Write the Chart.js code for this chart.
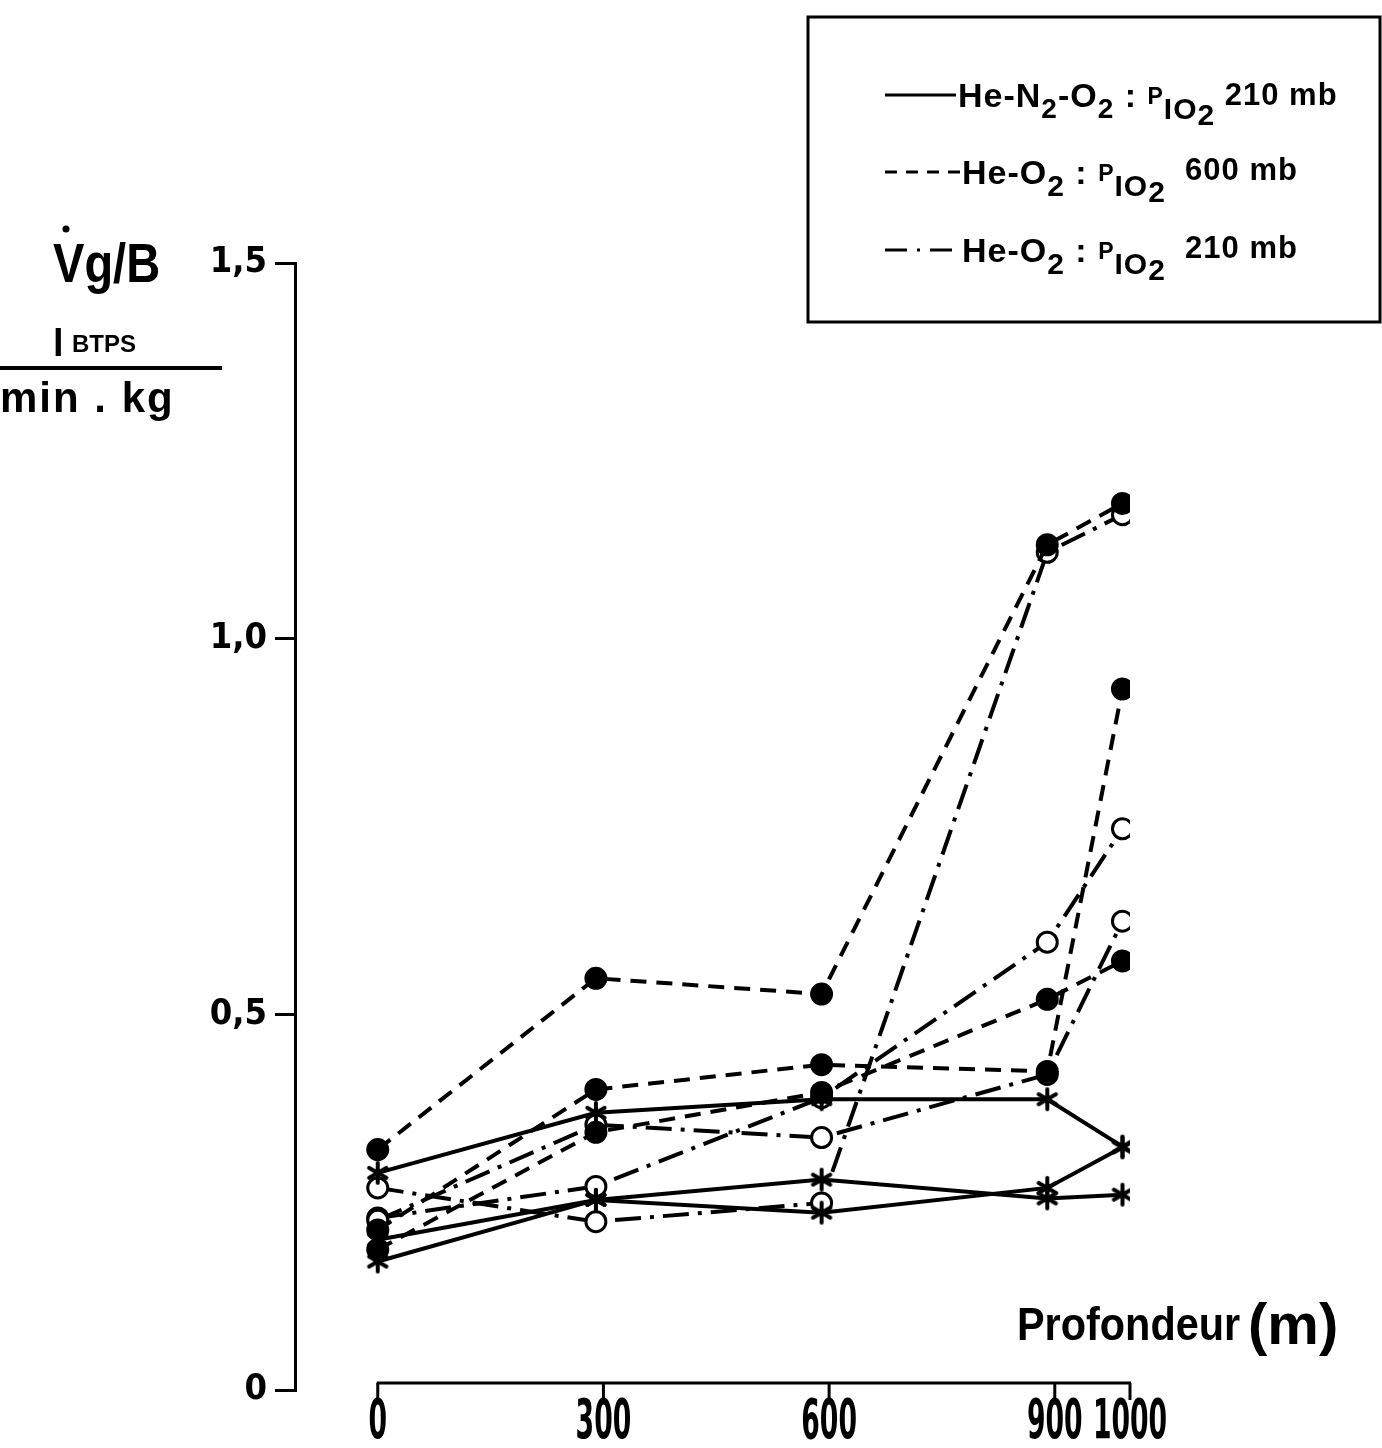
<!DOCTYPE html>
<html>
<head>
<meta charset="utf-8">
<script src="https://cdn.jsdelivr.net/npm/chart.js@4.4.0/dist/chart.umd.min.js"></script>
<style>
  html, body { margin: 0; padding: 0; background: #fff; }
  #wrap { width: 1382px; height: 1448px; position: relative; }
</style>
</head>
<body>
<div id="wrap"><canvas id="graph"></canvas></div>
<script>
// profondeurs des mesures (m) et graduations
const depths = [0, 290, 590, 890, 990];
const xTicks = [0, 300, 600, 900, 1000];
const yTicks = [0, 0.5, 1.0, 1.5];

// He-N2-O2 : PIO2 210 mb (trait plein, asterisques)
const n2Sujet1 = [0.289, 0.369, 0.387, 0.387, 0.324];
const n2Sujet2 = [0.200, 0.253, 0.280, 0.255, 0.260];
const n2Sujet3 = [0.171, 0.253, 0.236, 0.269, 0.323];

// He-O2 : PIO2 600 mb (tirets, points pleins)
const o2hSujet1 = [0.320, 0.548, 0.527, 1.125, 1.180];
const o2hSujet2 = [0.213, 0.400, 0.433, 0.424, 0.933];
const o2hSujet3 = [0.187, 0.343, 0.396, 0.520, 0.571];

// He-O2 : PIO2 210 mb (tiret-point, cercles vides)
const o2bSujet1 = [0.269, 0.224, 0.249, 1.115, 1.165];
const o2bSujet2 = [0.226, 0.353, 0.336, 0.420, 0.624];
const o2bSujet3 = [0.229, 0.271, 0.389, 0.596, 0.747];

const TIRETS = [16, 10];
const TIRET_POINT = [26, 9, 4, 9];
const NARROW = "'Liberation Sans Narrow', 'DejaVu Sans Condensed', sans-serif";
const SANS = "'Liberation Sans', Arial, sans-serif";

// asterisque a 6 branches pour les points He-N2-O2
const asterisque = document.createElement('canvas');
asterisque.width = 26;
asterisque.height = 26;
(function () {
  const c = asterisque.getContext('2d');
  c.strokeStyle = '#000';
  c.lineWidth = 4;
  c.lineCap = 'round';
  for (let k = 0; k < 3; k++) {
    const a = Math.PI / 2 + k * Math.PI / 3;
    c.beginPath();
    c.moveTo(13 - 10 * Math.cos(a), 13 - 10 * Math.sin(a));
    c.lineTo(13 + 10 * Math.cos(a), 13 + 10 * Math.sin(a));
    c.stroke();
  }
})();

function serie(values, dash, point, fond) {
  return {
    data: values.map((v, i) => ({ x: depths[i], y: v })),
    borderColor: '#000',
    borderWidth: 4,
    borderDash: dash,
    pointStyle: point,
    pointRadius: 10,
    pointBorderWidth: 3,
    pointBorderColor: '#000',
    pointBackgroundColor: fond,
    tension: 0,
    fill: false
  };
}

// texte avec indices : [texte, taille, decalage vertical]
function texteRiche(ctx, x, y, parts, poids) {
  let cx = x;
  parts.forEach(([t, taille, dy]) => {
    ctx.font = poids + ' ' + taille + 'px ' + SANS;
    ctx.fillText(t, cx, y + dy);
    cx += ctx.measureText(t).width;
  });
}

const habillage = {
  id: 'habillage',
  afterDraw(chart) {
    const { ctx, scales: { x, y } } = chart;
    ctx.save();
    ctx.fillStyle = '#000';
    ctx.strokeStyle = '#000';
    ctx.textBaseline = 'alphabetic';

    // axe des profondeurs, decale sous le graphe
    const base = y.getPixelForValue(0) - 7;
    ctx.lineWidth = 3;
    ctx.beginPath();
    ctx.moveTo(x.getPixelForValue(xTicks[0]) - 1, base);
    ctx.lineTo(x.getPixelForValue(xTicks[xTicks.length - 1]) + 1, base);
    ctx.stroke();
    xTicks.forEach(v => {
      const px = x.getPixelForValue(v);
      ctx.beginPath();
      ctx.moveTo(px, base);
      ctx.lineTo(px, base + 17);
      ctx.stroke();
      ctx.save();
      ctx.translate(px, base + 55);
      ctx.scale(0.78, 1.45);
      ctx.textAlign = 'center';
      ctx.font = 'bold 38px ' + NARROW;
      ctx.fillText(String(v), 0, 0);
      ctx.restore();
    });

    // titre de l'axe des x
    ctx.textAlign = 'left';
    ctx.save();
    ctx.translate(1017, 1340);
    ctx.scale(0.9, 1);
    ctx.font = 'bold 46px ' + SANS;
    ctx.fillText('Profondeur', 0, 0);
    ctx.restore();
    ctx.save();
    ctx.translate(1248, 1344);
    ctx.scale(1, 1);
    ctx.font = 'bold 58px ' + SANS;
    ctx.fillText('(m)', 0, 0);
    ctx.restore();

    // titre de l'axe des y
    ctx.save();
    ctx.translate(53, 282);
    ctx.scale(0.84, 1);
    ctx.font = 'bold 56px ' + SANS;
    ctx.fillText('Vg/B', 0, 0);
    ctx.restore();
    ctx.beginPath();
    ctx.arc(66, 229, 3.5, 0, Math.PI * 2);
    ctx.fill();
    ctx.font = 'bold 38px ' + SANS;
    ctx.fillText('l', 53, 356);
    ctx.font = 'bold 24px ' + SANS;
    ctx.fillText('BTPS', 72, 352);
    ctx.lineWidth = 4;
    ctx.beginPath();
    ctx.moveTo(0, 368);
    ctx.lineTo(222, 368);
    ctx.stroke();
    ctx.font = 'bold 42px ' + SANS;
    ctx.letterSpacing = '2px';
    ctx.fillText('min . kg', 0, 412);
    ctx.letterSpacing = '0px';

    // legende
    ctx.lineWidth = 3;
    ctx.strokeRect(808, 17, 572, 305);
    const entrees = [
      { dash: [], y: 95, texte: 958, parts: [['He-N', 34, 0], ['2', 28, 11], ['-O', 34, 0], ['2', 28, 11], [' : ', 34, 0], ['P', 23, -3], ['IO', 30, 12], ['2', 30, 18], [' 210 mb', 31, -2]] },
      { dash: [12, 9], y: 172, texte: 962, parts: [['He-O', 34, 0], ['2', 30, 12], [' : ', 34, 0], ['P', 23, -3], ['IO', 30, 12], ['2', 30, 18], ['  600 mb', 31, -4]] },
      { dash: [22, 10, 3, 10], y: 250, texte: 962, parts: [['He-O', 34, 0], ['2', 30, 12], [' : ', 34, 0], ['P', 23, -3], ['IO', 30, 12], ['2', 30, 18], ['  210 mb', 31, -4]] }
    ];
    entrees.forEach(e => {
      ctx.setLineDash(e.dash);
      ctx.lineWidth = 3;
      ctx.beginPath();
      ctx.moveTo(885, e.y);
      ctx.lineTo(e.texte - 2, e.y);
      ctx.stroke();
      ctx.setLineDash([]);
      ctx.letterSpacing = '1px';
      texteRiche(ctx, e.texte, e.y + 12, e.parts, 'bold');
      ctx.letterSpacing = '0px';
    });
    ctx.restore();
  }
};

new Chart(document.getElementById('graph'), {
  type: 'line',
  data: {
    datasets: [
      serie(n2Sujet1, [], asterisque, '#000'),
      serie(n2Sujet2, [], asterisque, '#000'),
      serie(n2Sujet3, [], asterisque, '#000'),
      serie(o2hSujet1, TIRETS, 'circle', '#000'),
      serie(o2hSujet2, TIRETS, 'circle', '#000'),
      serie(o2hSujet3, TIRETS, 'circle', '#000'),
      serie(o2bSujet1, TIRET_POINT, 'circle', '#fff'),
      serie(o2bSujet2, TIRET_POINT, 'circle', '#fff'),
      serie(o2bSujet3, TIRET_POINT, 'circle', '#fff')
    ]
  },
  options: {
    responsive: true,
    maintainAspectRatio: false,
    animation: false,
    layout: { autoPadding: false, padding: { left: 0, top: 263, right: 252, bottom: 58 } },
    plugins: { legend: { display: false }, tooltip: { enabled: false } },
    scales: {
      x: { type: 'linear', min: -110, max: 1000, display: false },
      y: {
        type: 'linear',
        min: 0,
        max: 1.5,
        afterBuildTicks(scale) { scale.ticks = yTicks.map(v => ({ value: v })); },
        afterFit(scale) { scale.width = 295; },
        border: { display: true, color: '#000', width: 3 },
        grid: { drawOnChartArea: false, drawTicks: true, tickLength: 20, color: '#000', lineWidth: 3 },
        ticks: {
          color: '#000',
          padding: 8,
          font: { family: NARROW, size: 36, weight: 'bold' },
          callback: v => v === 0 ? '0' : v.toFixed(1).replace('.', ',')
        }
      }
    }
  },
  plugins: [habillage]
});
</script>
</body>
</html>
